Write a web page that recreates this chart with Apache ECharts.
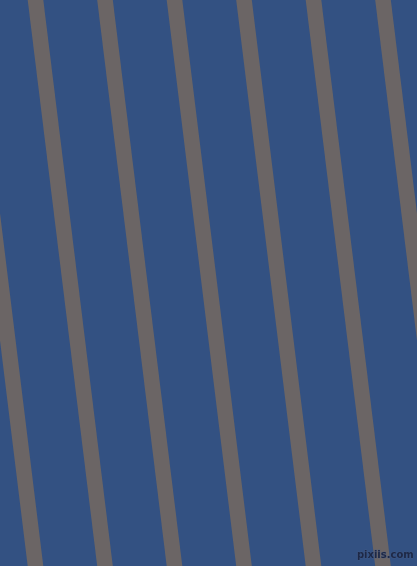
<!DOCTYPE html>
<html><head><meta charset="utf-8">
<script src="https://cdn.jsdelivr.net/npm/echarts@6/dist/echarts.min.js"></script>
<style>html,body{margin:0;padding:0;background:#335182;}#c{width:417px;height:566px;}</style>
</head><body><div id="c"></div>
<script>
// Stripe centre x positions at the top (y=0) and bottom (y=566) edges
var stripeTopX = [-34, 35.5, 105, 174.5, 244, 313.5, 383];
var stripeBottomX = [35.5, 105, 174.5, 244, 313.5, 383, 452.5];
var yTop = 0, yBottom = 566;

var chart = echarts.init(document.getElementById('c'), null, {renderer:'canvas'});
var series = stripeTopX.map(function(t, i){
  return {
    type:'line', data:[[t, yTop],[stripeBottomX[i], yBottom]],
    symbol:'none', clip:true, silent:true, animation:false, z:2,
    lineStyle:{color:'#6b6565', width:15.5, cap:'square'}
  };
});
chart.setOption({
  backgroundColor:'#335182',
  animation:false,
  grid:{left:0,right:0,top:0,bottom:0},
  xAxis:{type:'value', min:0, max:417, show:false},
  yAxis:{type:'value', min:0, max:566, inverse:true, show:false},
  series: series,
  graphic:[{type:'text', right:3, bottom:5, z:100, zlevel:1, style:{text:'pixiis.com', fill:'#1d2846', font:'bold 10px "DejaVu Sans"', stroke:'#4a5f8a', lineWidth:0.5}}]
});
</script></body></html>
